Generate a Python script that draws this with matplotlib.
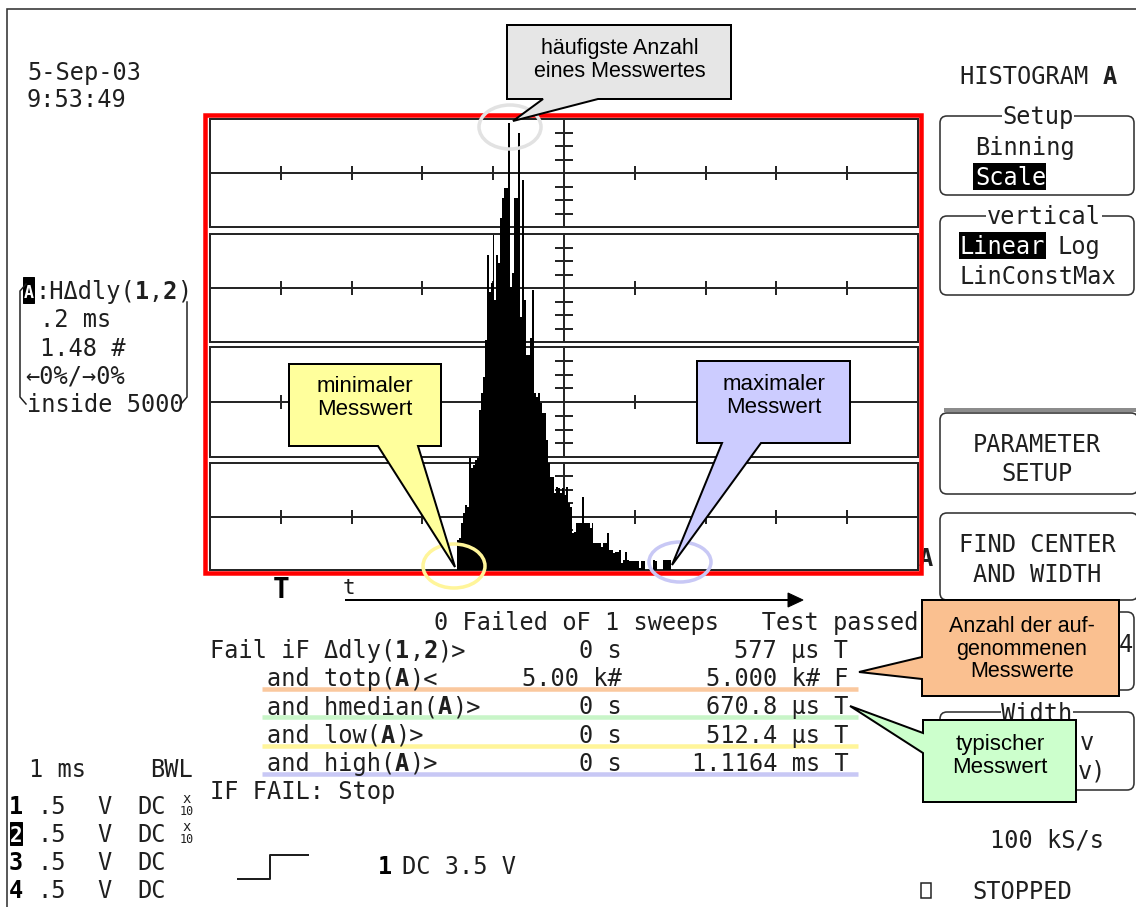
import re
import numpy as np
import matplotlib
matplotlib.use("Agg")
import matplotlib.pyplot as plt
from matplotlib.patches import Rectangle, Polygon, Ellipse, FancyBboxPatch

# ---------------------------------------------------------------- data
# Histogram A of dly(1,2): height of every bin in "#" (display units)
hist_counts = [
    0.79, 0.84, 1.23, 1.50, 1.71, 1.65, 2.94, 2.68, 2.76, 2.89,
    2.94, 4.20, 4.65, 5.07, 6.04, 8.27, 7.30, 7.53, 8.79, 7.09,
    8.27, 8.06, 9.24, 9.76, 10.03, 10.03, 11.73, 7.43, 7.80, 9.76,
    9.76, 11.47, 6.64, 10.24, 7.09, 5.64, 5.64, 6.09, 7.35, 4.65,
    4.54, 4.65, 4.38, 4.12, 4.12, 3.41, 2.81, 2.44, 2.44, 2.02,
    2.18, 2.15, 2.02, 2.15, 1.97, 2.18, 1.76, 1.65, 0.97, 1.00,
    1.23, 1.23, 1.23, 1.92, 1.23, 1.23, 1.23, 1.10, 1.23, 0.71,
    0.71, 0.71, 0.71, 0.60, 0.71, 0.71, 0.97, 0.52, 0.52, 0.45,
    0.47, 0.47, 0.52, 0.18, 0.26, 0.47, 0.26, 0.24, 0.24, 0.24,
    0.24, 0.24, 0.05, 0.24, 0.24, 0.00, 0.00, 0.00, 0.00, 0.26,
    0.24, 0.00, 0.00, 0.00, 0.26, 0.26, 0.26, 0.26,
]
low_us = 512.4          # low(A)
high_us = 1116.4        # high(A)
median_us = 670.8       # hmedian(A)
last_dly_us = 577       # dly(1,2) of the last sweep
total_pts = 5000        # totp(A)
h_per_div_ms = 0.2      # horizontal scale
v_per_div = 1.48        # vertical scale (# per division)
x_left_us = -185        # left edge of the grid

# pass/fail table
row_labels = ["Fail iF \u0394dly({1},{2})>", "and totp({A})<", "and hmedian({A})>",
              "and low({A})>", "and high({A})>"]
row_limits = ["0 s", "5.00 k#", "0 s", "0 s", "0 s"]
row_values = [f"{last_dly_us:.0f} \u00b5s", f"{total_pts/1000:.3f} k#",
              f"{median_us:.1f} \u00b5s", f"{low_us:.1f} \u00b5s",
              f"{high_us/1000:.4f} ms"]
row_results = ["T", "F", "T", "T", "T"]
row_marks = [None, "#fac89e", "#c8f5c8", "#fff59a", "#c8c8f5"]

# channel settings
chan_ids = ["1", "2", "3", "4"]
chan_volts = [".5", ".5", ".5", ".5"]
chan_cpl = ["DC", "DC", "DC", "DC"]
chan_probe = [True, True, False, False]

# ---------------------------------------------------------------- setup
W, H, DPI = 1136, 907, 100
MONO = "DejaVu Sans Mono"
SANS = "Liberation Sans"
FS = 17
INK = "#1f1f1f"

fig = plt.figure(figsize=(W / DPI, H / DPI), dpi=DPI)
fig.patch.set_facecolor("white")


def px_axes():
    ax = fig.add_axes([0, 0, 1, 1])
    ax.set_xlim(0, W)
    ax.set_ylim(H, 0)
    ax.axis("off")
    ax.patch.set_alpha(0)
    return ax


bg = px_axes()


def lw(px):
    return px * 72 / DPI


def mtext(ax, x, y, s, size=FS, color=INK, ha="left", bold_all=False, **kw):
    """Monospace text; parts in {braces} are drawn bold."""
    pitch = size * 0.6021 * DPI / 72
    parts = [p for p in re.split(r"(\{[^}]*\})", s) if p]
    n = sum(len(p) - 2 if p.startswith("{") else len(p) for p in parts)
    if ha == "right":
        x -= n * pitch
    elif ha == "center":
        x -= n * pitch / 2
    for p in parts:
        bold = p.startswith("{") or bold_all
        t = p[1:-1] if p.startswith("{") else p
        ax.text(x, y, t, fontsize=size, family=MONO, color=color,
                fontweight="bold" if bold else "normal",
                va="baseline", ha="left", **kw)
        x += len(t) * pitch
    return x


# outer screen frame
bg.plot([7, 7, W], [H, 9, 9], color="#333333", lw=lw(1.6), solid_joinstyle="miter")

# ---------------------------------------------------------------- grid
GX0, GX1, GY0, GY1 = 210, 918, 119, 570
GC = (GX0 + GX1) / 2
DIV = (GX1 - GX0) / 10
panels = [(119, 227), (234, 342), (347, 457), (463, 570)]
gcol = "#262626"
for top, bot in panels:
    bg.add_patch(Rectangle((GX0, top), GX1 - GX0, bot - top, fill=False,
                           ec=gcol, lw=lw(2)))
    mid = (top + bot) / 2
    bg.plot([GX0, GX1], [mid, mid], color=gcol, lw=lw(2))
    bg.plot([GC, GC], [top, bot], color=gcol, lw=lw(2))
    for k in range(1, 10):
        if k == 5:
            continue
        xk = GX0 + k * DIV
        bg.plot([xk, xk], [mid - 6, mid + 6], color=gcol, lw=lw(2))
    step = (bot - top) / 8
    for j in (-3, -2, -1, 1, 2, 3):
        yk = mid + j * step
        bg.plot([GC - 8, GC + 8], [yk, yk], color=gcol, lw=lw(2))

# trace label at right edge of the grid
bg.text(919, 566, "A", fontsize=FS, family=MONO, fontweight="bold",
        color=INK, va="baseline")

# ---------------------------------------------------------------- histogram
axh = fig.add_axes([GX0 / W, 1 - GY1 / H, (GX1 - GX0) / W, (GY1 - GY0) / H])
axh.axis("off")
axh.patch.set_alpha(0)
axh.set_xlim(x_left_us, x_left_us + 10 * h_per_div_ms * 1000)
axh.set_ylim(0, 8 * v_per_div)
edges = np.linspace(low_us, high_us, len(hist_counts) + 1)
axh.stairs(hist_counts, edges, fill=True, color="black", lw=0, baseline=0)

# ---------------------------------------------------------------- left texts
mtext(bg, 27, 80, "5-Sep-03")
mtext(bg, 27, 107, "9:53:49")

bg.add_patch(Rectangle((23, 277), 11, 26, fc="black", ec="black", lw=lw(1)))
bg.text(28.5, 298, "A", fontsize=12, family=MONO, fontweight="bold",
        color="white", ha="center", va="baseline")
mtext(bg, 35, 299, ":H\u0394dly({1},{2})")
mtext(bg, 40, 327, ".2 ms")
mtext(bg, 40, 356, "1.48 #")
mtext(bg, 25, 384, "\u21900%/\u21920%")
mtext(bg, 27, 412, "inside 5000")
bg.plot([26, 20, 20, 26], [284, 291, 397, 404], color=INK, lw=lw(1.5))
bg.plot([187, 187, 181], [302, 397, 404], color=INK, lw=lw(1.5))

# ---------------------------------------------------------------- right menu
mtext(bg, 960, 84, "HISTOGRAM {A}")


def menu_box(x0, y0, x1, y1):
    bg.add_patch(FancyBboxPatch((x0, y0), x1 - x0, y1 - y0,
                                boxstyle="round,pad=0,rounding_size=7",
                                fc="white", ec="#333333", lw=lw(1.6)))


menu_box(940, 116, 1134, 195)
bg.text(1038, 124, "Setup", fontsize=FS, family=MONO, color=INK, ha="center",
        va="baseline", bbox=dict(fc="white", ec="none", pad=0.5))
mtext(bg, 975, 155, "Binning")
bg.add_patch(Rectangle((973, 163), 73, 27, fc="black", ec="none"))
mtext(bg, 975, 185, "Scale", color="white")

menu_box(940, 216, 1134, 295)
bg.text(1044, 224, "vertical", fontsize=FS, family=MONO, color=INK,
        ha="center", va="baseline", bbox=dict(fc="white", ec="none", pad=0.5))
bg.add_patch(Rectangle((959, 232), 87, 27, fc="black", ec="none"))
mtext(bg, 960, 254, "Linear", color="white")
mtext(bg, 1058, 254, "Log")
mtext(bg, 960, 284, "LinConstMax")

bg.plot([946, W], [410, 410], color="#8c8c8c", lw=lw(4))
menu_box(940, 413, 1138, 494)
mtext(bg, 1037, 452, "PARAMETER", ha="center")
mtext(bg, 1037, 481, "SETUP", ha="center")

menu_box(940, 513, 1138, 600)
mtext(bg, 1037, 552, "FIND CENTER", ha="center")
mtext(bg, 1037, 582, "AND WIDTH", ha="center")

menu_box(940, 612, 1134, 690)
mtext(bg, 1119, 652, "4")

menu_box(940, 712, 1134, 790)
bg.text(1037, 721, "Width", fontsize=FS, family=MONO, color=INK,
        ha="center", va="baseline", bbox=dict(fc="white", ec="none", pad=0.5))
mtext(bg, 1080, 750, "v")
mtext(bg, 1078, 778, "v)")

mtext(bg, 990, 847, "100 kS/s")
bg.add_patch(Rectangle((921, 883), 10, 15, fill=False, ec=INK, lw=lw(1.5)))
mtext(bg, 972, 899, "STOPPED")

# ---------------------------------------------------------------- below grid
bg.text(281, 598, "T", fontsize=20, family=MONO, fontweight="bold",
        color="black", ha="center", va="baseline")
mtext(bg, 343, 594, "t", size=15)
bg.plot([346, 790], [600, 600], color="black", lw=lw(2))
bg.add_patch(Polygon([(788, 593), (803, 600), (788, 607)], closed=True,
                     fc="black", ec="black", lw=lw(1)))

mtext(bg, 917, 630, "0 Failed oF 1 sweeps   Test passed", ha="right")

row_y = [658, 686, 714, 743, 771]
for i, y in enumerate(row_y):
    if row_marks[i]:
        bg.plot([262, 858], [y + 3, y + 3], color=row_marks[i], lw=lw(4.5),
                solid_capstyle="butt", zorder=1)
    x0 = 210 if i == 0 else 267
    mtext(bg, x0, y, row_labels[i], zorder=2)
    mtext(bg, 622, y, row_limits[i], ha="right", zorder=2)
    mtext(bg, 848, y, f"{row_values[i]} {row_results[i]}", ha="right", zorder=2)

mtext(bg, 210, 799, "IF FAIL: Stop")

# channel summary
mtext(bg, 29, 777, "1 ms")
mtext(bg, 150, 777, "BWL")
chan_y = [814, 842, 870, 898]
for i, y in enumerate(chan_y):
    if i == 1:
        bg.add_patch(Rectangle((10, y - 20), 12, 23, fc="black", ec="black",
                               lw=lw(1)))
        bg.text(16, y, chan_ids[i], fontsize=15, family=MONO,
                fontweight="bold", color="white", ha="center", va="baseline")
    else:
        bg.text(16, y, chan_ids[i], fontsize=17, family=MONO,
                fontweight="bold", color="black", ha="center", va="baseline")
    mtext(bg, 37, y, chan_volts[i])
    mtext(bg, 97, y, "V")
    mtext(bg, 137, y, chan_cpl[i])
    if chan_probe[i]:
        bg.text(187, y - 11, "x", fontsize=10, family=MONO, color=INK,
                ha="center", va="baseline")
        bg.text(187, y + 1, "10", fontsize=8.5, family=MONO, color=INK,
                ha="center", va="baseline")

# trigger
bg.plot([238, 270, 270, 308], [879, 879, 855, 855], color=INK, lw=lw(2))
bg.text(385, 874, "1", fontsize=FS, family=MONO, fontweight="bold",
        color="black", ha="center", va="baseline")
mtext(bg, 402, 874, "DC 3.5 V")

# ---------------------------------------------------------------- overlay
fg = px_axes()
fg.add_patch(Rectangle((205, 115), 716, 458, fill=False, ec="#ff0000",
                       lw=lw(4.5), joinstyle="miter"))

fg.add_patch(Ellipse((510, 127), 62, 44, fill=False, ec="#e2e2e2", lw=lw(3.5)))
fg.add_patch(Ellipse((454, 566), 62, 44, fill=False, ec="#fff59a", lw=lw(3.5)))
fg.add_patch(Ellipse((680, 562), 62, 40, fill=False, ec="#c8c8f5", lw=lw(3.5)))


def callout(box, base, tip, fc, text, center, side="bottom", size=16):
    x0, y0, x1, y1 = box
    if side == "bottom":
        pts = [(x0, y0), (x1, y0), (x1, y1), (base[1], y1), tip,
               (base[0], y1), (x0, y1)]
    else:
        pts = [(x0, y0), (x1, y0), (x1, y1), (x0, y1), (x0, base[1]), tip,
               (x0, base[0])]
    fg.add_patch(Polygon(pts, closed=True, fc=fc, ec="black", lw=lw(2),
                         joinstyle="miter"))
    fg.text(center[0], center[1], text, fontsize=size, family=SANS,
            color="black", ha="center", va="center", linespacing=1.12)


callout((507, 25, 731, 99), (543, 598), (513, 121), "#e6e6e6",
        "h\u00e4ufigste Anzahl\neines Messwertes", (620, 60), size=15.5)
callout((289, 364, 441, 446), (378, 418), (455, 567), "#ffff9c",
        "minimaler\nMesswert", (365, 398))
callout((697, 361, 850, 443), (722, 761), (672, 565), "#ccccff",
        "maximaler\nMesswert", (774, 396))
callout((922, 600, 1119, 696), (657, 679), (859, 672), "#fac090",
        "Anzahl der auf-\ngenommenen\nMesswerte", (1022, 649), side="left",
        size=15.5)
callout((923, 720, 1076, 802), (733, 753), (850, 706), "#ccffcc",
        "typischer\nMesswert", (1000, 756), side="left")

fig.savefig("out.png", dpi=DPI, facecolor="white")
